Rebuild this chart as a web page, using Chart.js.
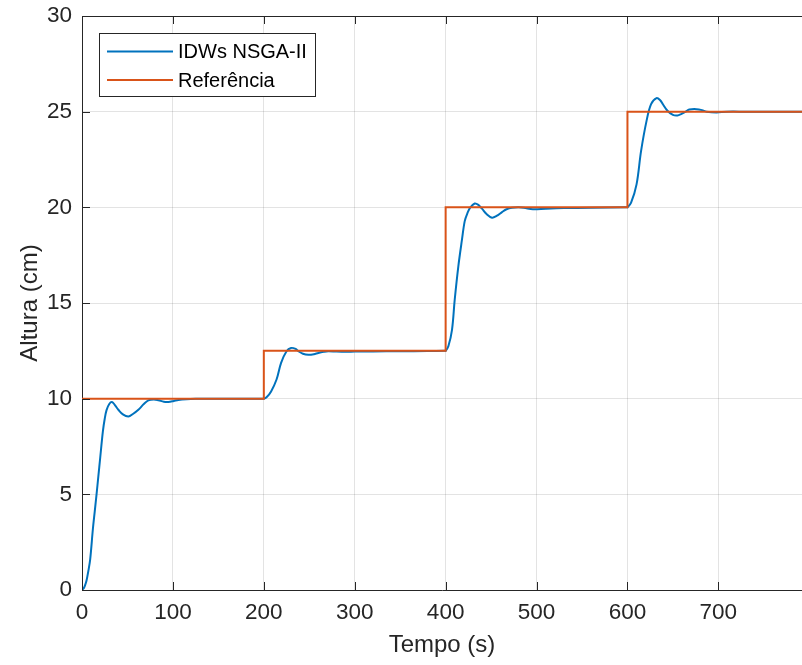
<!DOCTYPE html>
<html>
<head>
<meta charset="utf-8">
<script src="https://cdn.jsdelivr.net/npm/chart.js@4.4.0/dist/chart.umd.min.js"></script>
<style>
  html, body { margin: 0; padding: 0; background: #fff; overflow: hidden; }
  #wrap { width: 802px; height: 665px; position: relative; }
</style>
</head>
<body>
<div id="wrap"><canvas id="altura_chart"></canvas></div>
<script>
// resposta do controlador
const tempo = [
  0, 2, 3, 5, 7, 9, 12, 14, 16, 18, 20, 23, 25, 27, 30, 33, 36, 40, 45, 51, 56,
  62, 68, 73, 79, 84, 90, 95, 101, 106, 115, 125, 140, 160, 180, 199,
  200, 203, 208, 214, 219, 225, 230, 235, 238, 243, 249, 255, 260, 266, 271,
  280, 290, 300, 320, 350, 380, 399,
  400, 403, 407, 410, 414, 418, 421, 424, 427, 432, 436, 440, 445, 451, 456,
  462, 467, 473, 480, 486, 496, 510, 530, 560, 599,
  600, 604, 610, 615, 621, 626, 632, 636, 639, 644, 650, 655, 659, 664, 668,
  676, 682, 687, 698, 709, 730, 760, 792,
];
const altura = [
  0, 0.1, 0.2, 0.5, 1.0, 1.6, 3.2, 4.1, 5.0, 5.95, 6.9, 8.3, 8.95, 9.4, 9.72,
  9.82, 9.68, 9.42, 9.18, 9.07, 9.2, 9.42, 9.72, 9.91, 9.96, 9.92, 9.84, 9.83,
  9.88, 9.93, 9.97, 9.99, 10, 10, 10, 10,
  10, 10.07, 10.38, 11.0, 11.87, 12.48, 12.65, 12.6, 12.48, 12.35, 12.29, 12.32,
  12.39, 12.45, 12.48, 12.46, 12.45, 12.46, 12.47, 12.48, 12.49, 12.5,
  12.5, 12.74, 13.6, 15.18, 16.93, 18.32, 19.28, 19.7, 19.98, 20.2, 20.13, 19.93,
  19.65, 19.46, 19.55, 19.75, 19.9, 19.98, 20.0, 19.98, 19.9, 19.93, 19.96,
  19.98, 20.0,
  20.0, 20.24, 21.2, 22.95, 24.52, 25.39, 25.71, 25.6, 25.39, 25.05, 24.83, 24.8,
  24.87, 25.0, 25.11, 25.13, 25.08, 25.0, 24.96, 25.0, 25.0, 25.0, 25.0,
];

// referencia em degraus
const refTempo = [0, 200, 400, 600, 792];
const refAltura = [10, 12.5, 20, 25, 25];

const xTicks = [0, 100, 200, 300, 400, 500, 600, 700];
const yTicks = [0, 5, 10, 15, 20, 25, 30];

const labels = ["IDWs NSGA-II", "Referência"];
const colors = ["#0072BD", "#D95319"];
const axisColor = "#262626";
const fontFamily = "'Liberation Sans', Arial, Helvetica, sans-serif";

const toPoints = (xs, ys) => xs.map((x, i) => ({ x: x, y: ys[i] }));

// marcas de escala para dentro + borda superior (estilo MATLAB)
const inwardTicks = {
  id: "inwardTicks",
  afterDatasetsDraw(chart) {
    const { ctx, chartArea, scales } = chart;
    const len = 8;
    ctx.save();
    ctx.strokeStyle = axisColor;
    ctx.lineWidth = 1;
    ctx.beginPath();
    ctx.moveTo(chartArea.left, chartArea.top + 0.5);
    ctx.lineTo(chartArea.right, chartArea.top + 0.5);
    scales.x.ticks.forEach((t) => {
      const px = Math.round(scales.x.getPixelForValue(t.value)) + 0.5;
      ctx.moveTo(px, chartArea.bottom);
      ctx.lineTo(px, chartArea.bottom - len);
      ctx.moveTo(px, chartArea.top);
      ctx.lineTo(px, chartArea.top + len);
    });
    scales.y.ticks.forEach((t) => {
      const py = Math.round(scales.y.getPixelForValue(t.value)) + 0.5;
      ctx.moveTo(chartArea.left, py);
      ctx.lineTo(chartArea.left + len, py);
    });
    ctx.stroke();
    ctx.restore();
  },
};

// legenda dentro do grafico, canto superior esquerdo
const boxLegend = {
  id: "boxLegend",
  afterDraw(chart) {
    const { ctx, chartArea } = chart;
    const x0 = chartArea.left + 17;
    const y0 = chartArea.top + 17;
    const w = 216;
    const h = 63;
    ctx.save();
    ctx.fillStyle = "#fff";
    ctx.fillRect(x0, y0, w, h);
    ctx.strokeStyle = axisColor;
    ctx.lineWidth = 1;
    ctx.strokeRect(x0 + 0.5, y0 + 0.5, w, h);
    ctx.font = "20px " + fontFamily;
    ctx.textBaseline = "middle";
    chart.data.datasets.forEach((ds, i) => {
      const yy = y0 + 18.5 + i * 28.5;
      ctx.strokeStyle = ds.borderColor;
      ctx.lineWidth = 2;
      ctx.beginPath();
      ctx.moveTo(x0 + 8, yy);
      ctx.lineTo(x0 + 74, yy);
      ctx.stroke();
      ctx.fillStyle = "#000";
      ctx.fillText(ds.label, x0 + 79, yy + 1);
    });
    ctx.restore();
  },
};

const ctx = document.getElementById("altura_chart");
new Chart(ctx, {
  type: "line",
  data: {
    datasets: [
      {
        label: labels[0],
        data: toPoints(tempo, altura),
        borderColor: colors[0],
        borderWidth: 2,
        pointRadius: 0,
        tension: 0.35,
        order: 2,
      },
      {
        label: labels[1],
        data: toPoints(refTempo, refAltura),
        borderColor: colors[1],
        borderWidth: 2,
        pointRadius: 0,
        stepped: "before",
        order: 1,
      },
    ],
  },
  options: {
    responsive: true,
    maintainAspectRatio: false,
    animation: false,
    layout: {
      padding: 0,
    },
    plugins: {
      legend: { display: false },
      tooltip: { enabled: false },
    },
    scales: {
      x: {
        type: "linear",
        min: 0,
        max: 792,
        afterBuildTicks: (scale) => {
          scale.ticks = xTicks.map((v) => ({ value: v }));
        },
        afterFit: (scale) => {
          scale.height = 75;
          scale.paddingRight = 0;
        },
        ticks: {
          color: axisColor,
          padding: 9.5,
          maxRotation: 0,
          autoSkip: false,
          font: { family: fontFamily, size: 22.5 },
        },
        grid: {
          color: "rgba(38, 38, 38, 0.13)",
          drawTicks: false,
        },
        border: { color: axisColor, width: 1 },
        title: {
          display: true,
          text: "Tempo (s)",
          color: axisColor,
          padding: { top: 0, bottom: 5 },
          font: { family: fontFamily, size: 24 },
        },
      },
      y: {
        min: 0,
        max: 30,
        afterBuildTicks: (scale) => {
          scale.ticks = yTicks.map((v) => ({ value: v }));
        },
        afterFit: (scale) => {
          scale.width = 82;
          scale.paddingTop = 16;
          scale.paddingBottom = 0;
        },
        ticks: {
          color: axisColor,
          padding: 10,
          font: { family: fontFamily, size: 22.5 },
        },
        grid: {
          color: "rgba(38, 38, 38, 0.13)",
          drawTicks: false,
        },
        border: { color: axisColor, width: 1 },
        title: {
          display: true,
          text: "Altura (cm)",
          color: axisColor,
          padding: { top: 16, bottom: 0 },
          font: { family: fontFamily, size: 24 },
        },
      },
    },
  },
  plugins: [inwardTicks, boxLegend],
});
</script>
</body>
</html>
